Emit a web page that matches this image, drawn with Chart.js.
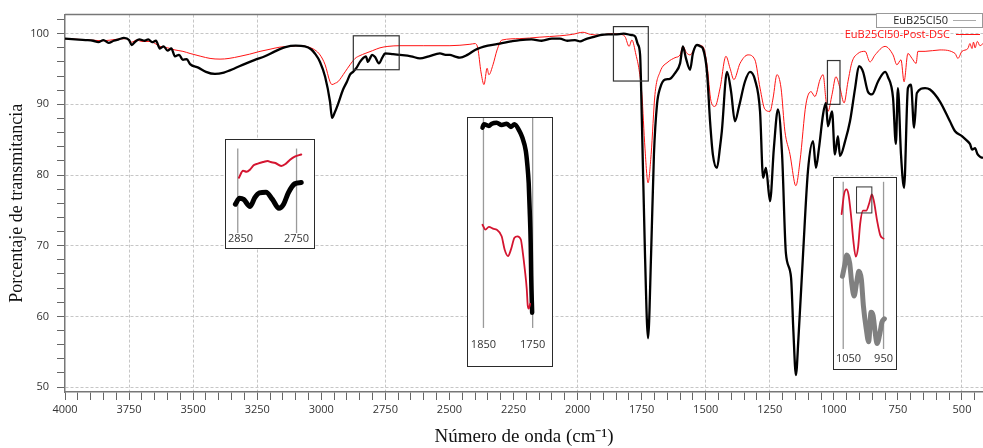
<!DOCTYPE html>
<html lang="es">
<head>
    <meta charset="UTF-8">
    <title>Espectro FTIR EuB25Cl50</title>
    <script src="https://cdn.jsdelivr.net/npm/chart.js"></script>
    <style>
        body { margin: 0; background: #ffffff; }
        .wrap { position: relative; width: 983px; height: 448px; }
        .inset {
            position: absolute;
            box-sizing: border-box;
            border: 1.5px solid #2a2a2a;
            background: #ffffff;
        }
        .inset canvas { display: block; }
    </style>
</head>
<body>
<div class="wrap">
    <canvas id="ftir" width="983" height="448"></canvas>
    <div class="inset" style="left:225px;top:139px;width:90px;height:110px"><canvas id="inset1" width="87" height="107"></canvas></div>
    <div class="inset" style="left:467px;top:117px;width:86px;height:250px"><canvas id="inset2" width="83" height="247"></canvas></div>
    <div class="inset" style="left:833px;top:177px;width:64px;height:193px"><canvas id="inset3" width="61" height="190"></canvas></div>
</div>

<script>
// --- espectro principal (numero de onda en cm-1, transmitancia en %) ---
const blackWn = [4000, 3960, 3920, 3890, 3870, 3850, 3830, 3810, 3790, 3770, 3750, 3740, 3725, 3710, 3690, 3675, 3660, 3645, 3630, 3615,
    3600, 3585, 3571, 3555, 3540, 3525, 3512, 3480, 3450, 3415, 3380, 3337, 3300, 3259, 3220, 3181, 3140, 3100, 3064, 3040,
    3025, 3005, 2985, 2966, 2958, 2948, 2935, 2915, 2900, 2888, 2876, 2862, 2849, 2835, 2826, 2818, 2810, 2802, 2790, 2775,
    2762, 2751, 2720, 2693, 2650, 2615, 2580, 2537, 2515, 2498, 2480, 2459, 2430, 2400, 2350, 2303, 2260, 2225, 2180, 2140,
    2100, 2069, 2040, 2010, 1990, 1970, 1940, 1912, 1880, 1854, 1820, 1790, 1775, 1765, 1756, 1749, 1737, 1725, 1713, 1702,
    1690, 1678, 1659, 1640, 1620, 1600, 1589, 1577, 1561, 1550, 1534, 1520, 1511, 1495, 1483, 1472, 1456, 1444, 1437, 1417,
    1401, 1386, 1370, 1347, 1327, 1308, 1288, 1276, 1265, 1249, 1234, 1218, 1202, 1187, 1167, 1158, 1148, 1138, 1120, 1101,
    1081, 1070, 1058, 1042, 1031, 1023, 1007, 996, 984, 976, 956, 937, 917, 902, 886, 867, 851, 828, 800, 789,
    769, 758, 750, 738, 726, 711, 699, 687, 676, 644, 625, 586, 547, 527, 500, 485, 469, 460, 449, 440,
    430, 418];
const blackT = [99.3, 99.2, 99.1, 99.0, 98.8, 99.1, 98.7, 99.0, 99.2, 99.4, 99.1, 98.4, 98.9, 99.2, 99.0, 99.2, 98.8, 99.0, 97.9, 98.2,
    97.6, 97.9, 96.8, 97.0, 96.3, 96.4, 95.7, 95.2, 94.6, 94.3, 94.5, 95.1, 95.7, 96.3, 96.8, 97.5, 98.1, 98.3, 98.2, 97.8,
    97.2, 96.0, 93.9, 90.4, 88.1, 88.8, 90.0, 92.1, 93.2, 94.2, 94.6, 95.2, 96.0, 96.6, 96.8, 96.0, 96.5, 97.0, 96.7, 95.8,
    96.6, 97.2, 97.1, 97.0, 96.8, 96.5, 96.8, 97.2, 97.0, 97.0, 96.8, 96.6, 97.0, 97.7, 98.3, 98.6, 98.9, 99.1, 99.2, 99.0,
    99.3, 99.3, 99.0, 99.1, 98.9, 99.2, 99.5, 99.8, 99.9, 99.9, 100.0, 99.8, 99.6, 98.5, 97.0, 87.6, 68.9, 56.9, 68.9, 82.9,
    90.0, 92.3, 93.5, 93.6, 94.4, 95.8, 98.2, 96.5, 94.9, 97.2, 98.4, 98.2, 97.9, 94.6, 87.6, 82.9, 81.0, 84.0, 86.2, 94.6,
    91.8, 87.6, 89.7, 93.2, 94.6, 93.5, 89.0, 79.6, 81.0, 76.3, 83.8, 89.3, 82.9, 68.9, 65.5, 58.0, 51.7, 57.0, 68.9, 80.6,
    84.8, 81.0, 83.8, 88.6, 90.2, 86.9, 89.0, 82.9, 85.5, 82.7, 84.8, 87.6, 92.3, 95.4, 94.6, 91.8, 91.4, 93.2, 94.6, 93.9,
    90.9, 84.4, 92.3, 82.9, 78.2, 92.3, 92.8, 86.7, 91.6, 92.3, 92.1, 90.4, 87.6, 86.2, 85.5, 85.0, 84.4, 83.6, 83.8, 83.0,
    82.6, 82.4];

const redWn = [4000, 3950, 3900, 3850, 3800, 3760, 3740, 3720, 3700, 3668, 3629, 3600, 3571, 3540, 3512, 3470, 3434, 3395, 3360, 3317,
    3280, 3239, 3200, 3161, 3122, 3083, 3050, 3025, 3005, 2985, 2966, 2958, 2945, 2935, 2907, 2888, 2868, 2849, 2829, 2800,
    2771, 2740, 2693, 2600, 2498, 2420, 2400, 2389, 2377, 2365, 2353, 2346, 2330, 2314, 2295, 2225, 2150, 2069, 2020, 1979,
    1950, 1912, 1870, 1834, 1815, 1799, 1788, 1772, 1760, 1749, 1737, 1725, 1713, 1698, 1678, 1647, 1620, 1600, 1589, 1575,
    1561, 1534, 1511, 1495, 1479, 1464, 1444, 1421, 1405, 1390, 1366, 1335, 1308, 1288, 1269, 1249, 1237, 1222, 1206, 1191,
    1171, 1152, 1148, 1132, 1109, 1089, 1074, 1054, 1042, 1031, 1023, 1007, 992, 976, 960, 945, 929, 906, 878, 859,
    839, 800, 769, 754, 738, 726, 711, 695, 679, 672, 644, 586, 527, 516, 500, 477, 469, 461, 455, 449,
    440, 430, 418];
const redT = [99.3, 99.2, 99.1, 99.0, 99.2, 99.3, 98.8, 99.1, 98.9, 98.9, 98.2, 98.0, 97.7, 97.5, 97.2, 96.8, 96.5, 96.4, 96.5, 96.8,
    97.1, 97.5, 97.8, 98.1, 98.2, 98.3, 98.1, 97.7, 97.0, 95.6, 93.2, 92.8, 93.0, 93.2, 94.6, 95.6, 96.5, 96.9, 97.2, 97.6,
    98.0, 98.2, 98.3, 98.3, 98.3, 98.5, 98.6, 97.9, 94.6, 92.8, 95.1, 94.2, 95.6, 97.7, 99.1, 99.3, 99.5, 99.7, 99.9, 100.2,
    99.9, 99.8, 100.0, 99.9, 99.6, 98.2, 99.1, 97.0, 94.9, 91.4, 83.8, 78.9, 82.9, 91.4, 94.6, 96.0, 96.6, 97.0, 98.2, 97.3,
    97.0, 98.4, 98.2, 95.6, 90.4, 89.7, 92.3, 96.8, 95.1, 93.5, 95.8, 97.0, 96.3, 92.3, 89.3, 89.0, 90.9, 94.2, 92.3, 86.2,
    82.9, 78.7, 78.5, 82.0, 90.0, 91.8, 91.1, 93.5, 94.2, 90.7, 89.0, 91.4, 93.9, 92.3, 90.2, 93.2, 96.0, 97.2, 97.5, 96.0,
    97.0, 98.2, 97.0, 95.6, 96.3, 93.2, 97.2, 96.5, 95.8, 97.5, 97.5, 97.7, 97.2, 96.5, 97.5, 97.9, 98.6, 97.9, 98.8, 98.0,
    98.9, 98.3, 98.6];

// lineas de rejilla verticales visibles y ventanas ampliadas [wnAlto, wnBajo, Tbajo, Talto]
const xGridLines = [3750, 3500, 3250, 2750, 2000, 1500, 1250, 500];
const zoomWindows = [[2875, 2696, 94.9, 99.7], [1860, 1724, 93.3, 101.0], [1025, 976, 90.0, 96.2]];

// --- recuadros ampliados (valores relativos 0-100 dentro del recuadro) ---
const inset1Marks = [2850, 2750];
const inset1RedWn = [2848, 2841, 2835, 2829, 2823, 2816, 2807, 2799, 2794, 2786, 2776, 2768, 2761, 2753, 2742];
const inset1RedY = [64.8, 71.2, 70.3, 72.4, 76.4, 77.9, 79.4, 80.3, 79.4, 78.5, 75.8, 77.9, 81.5, 84.5, 86.4];
const inset1BlackWn = [2854, 2847, 2840, 2829, 2821, 2813, 2802, 2791, 2780, 2772, 2764, 2753, 2742];
const inset1BlackY = [40.0, 45.5, 44.5, 37.9, 46.1, 50.6, 51.2, 44.5, 36.1, 40.0, 50.6, 59.1, 60.3];

const inset2Marks = [1850, 1750];
const inset2BlackWn = [1852, 1849, 1839, 1833, 1823, 1813, 1803, 1794, 1787, 1777, 1771, 1764, 1761, 1758, 1756, 1754, 1753, 1751];
const inset2BlackY = [96.1, 97.5, 96.8, 97.7, 98.1, 97.2, 97.7, 96.4, 97.5, 94.8, 92.1, 86.8, 81.5, 73.5, 62.8, 49.5, 36.1, 21.2];
const inset2RedWn = [1852, 1846, 1839, 1829, 1823, 1813, 1807, 1800, 1794, 1787, 1781, 1774, 1770, 1766, 1762, 1760, 1758, 1755];
const inset2RedY = [56.8, 54.8, 55.9, 55.1, 54.8, 52.1, 46.8, 44.1, 46.8, 51.5, 52.1, 50.8, 45.5, 38.8, 30.8, 24.1, 22.8, 24.8];

const inset3Marks = [1050, 950];
const inset3RedWn = [1054, 1048, 1042, 1037, 1031, 1025, 1019, 1013, 1008, 1001, 993, 985, 979, 974, 966, 958, 950];
const inset3RedY = [81.0, 91.4, 94.0, 91.4, 81.0, 67.2, 58.6, 63.8, 75.9, 82.8, 82.8, 87.1, 91.4, 87.9, 77.6, 69.8, 68.1];
const inset3GrayWn = [1052, 1047, 1041, 1034, 1029, 1023, 1017, 1011, 1005, 1000, 993, 987, 981, 976, 971, 966, 960, 954, 948];
const inset3GrayY = [48.3, 53.4, 59.5, 55.2, 44.8, 37.9, 44.8, 50.9, 46.6, 32.8, 20.7, 13.8, 29.3, 27.6, 19.0, 12.9, 17.2, 24.1, 25.9];
const inset3Window = [1017, 979, 81.6, 95.3];

const toPoints = (xs, ys) => xs.map((x, i) => ({ x: x, y: ys[i] }));
const tickFont = { family: 'Open Sans', size: 11 };

// marco superior, ventanas ampliadas y leyenda dibujada a mano
const framePlugin = {
    id: 'framePlugin',
    afterDatasetsDraw(chart) {
        const { ctx, chartArea, scales } = chart;
        ctx.save();
        ctx.strokeStyle = '#777';
        ctx.lineWidth = 1.5;
        ctx.beginPath();
        ctx.moveTo(chartArea.left, chartArea.top);
        ctx.lineTo(chartArea.right, chartArea.top);
        ctx.stroke();

        ctx.strokeStyle = '#333';
        ctx.lineWidth = 1.2;
        zoomWindows.forEach(w => {
            const x1 = scales.x.getPixelForValue(w[0]);
            const x2 = scales.x.getPixelForValue(w[1]);
            const y1 = scales.y.getPixelForValue(w[3]);
            const y2 = scales.y.getPixelForValue(w[2]);
            ctx.strokeRect(x1, y1, x2 - x1, y2 - y1);
        });
        ctx.restore();
    },
    afterDraw(chart) {
        const { ctx } = chart;
        const ds = chart.data.datasets;
        ctx.save();
        ctx.font = '11px "Open Sans"';
        ctx.textAlign = 'right';
        ctx.textBaseline = 'middle';
        // primera entrada dentro de un recuadro
        ctx.fillStyle = '#fff';
        ctx.fillRect(876, 13, 107, 14);
        ctx.strokeStyle = '#999';
        ctx.lineWidth = 1;
        ctx.strokeRect(876.5, 13.5, 106, 14);
        ctx.fillStyle = '#222';
        ctx.fillText(ds[1].label, 948, 20.5);
        ctx.strokeStyle = '#aaa';
        ctx.beginPath(); ctx.moveTo(953, 20.5); ctx.lineTo(976, 20.5); ctx.stroke();
        // segunda entrada
        ctx.fillStyle = ds[0].borderColor;
        ctx.fillText(ds[0].label, 950, 34.5);
        ctx.strokeStyle = ds[0].borderColor;
        ctx.beginPath(); ctx.moveTo(956, 34.5); ctx.lineTo(980, 34.5); ctx.stroke();
        ctx.restore();
    }
};

new Chart(document.getElementById('ftir'), {
    type: 'line',
    data: {
        datasets: [
            {
                label: 'EuB25Cl50-Post-DSC',
                data: toPoints(redWn, redT),
                borderColor: '#ff1414',
                borderWidth: 1,
                pointRadius: 0,
                cubicInterpolationMode: 'monotone',
                order: 1
            },
            {
                label: 'EuB25Cl50',
                data: toPoints(blackWn, blackT),
                borderColor: '#000000',
                borderWidth: 2.3,
                pointRadius: 0,
                cubicInterpolationMode: 'monotone',
                order: 0
            }
        ]
    },
    options: {
        responsive: false,
        animation: false,
        events: [],
        layout: { padding: { top: 13, left: 0, right: 0, bottom: 0 } },
        scales: {
            x: {
                type: 'linear',
                reverse: true,
                min: 418,
                max: 4000,
                afterFit: s => { s.height = 56; },
                ticks: {
                    stepSize: 50,
                    includeBounds: false,
                    autoSkip: false,
                    maxRotation: 0,
                    padding: 3,
                    color: '#333',
                    font: tickFont,
                    callback: v => (v % 250 === 0 ? v : '')
                },
                grid: {
                    color: c => (c.tick && xGridLines.includes(c.tick.value) ? '#c6c6c6' : 'rgba(0,0,0,0)'),
                    tickColor: '#666',
                    tickLength: 8
                },
                border: { color: '#777', width: 1.5, dash: [3, 2] },
                title: {
                    display: true,
                    text: 'Número de onda (cm⁻¹)',
                    color: '#111',
                    font: { family: 'Liberation Serif', size: 19 },
                    padding: 0
                }
            },
            y: {
                min: 49.3,
                max: 102.7,
                afterFit: s => { s.width = 65; },
                ticks: {
                    stepSize: 2,
                    includeBounds: false,
                    autoSkip: false,
                    padding: 8,
                    color: '#333',
                    font: tickFont,
                    callback: v => (v % 10 === 0 ? v : '')
                },
                grid: {
                    color: c => (c.tick && c.tick.value % 10 === 0 ? '#c6c6c6' : 'rgba(0,0,0,0)'),
                    tickColor: '#666',
                    tickLength: 8
                },
                border: { color: '#777', width: 1.5, dash: [3, 2] },
                title: {
                    display: true,
                    text: 'Porcentaje de transmitancia',
                    color: '#111',
                    font: { family: 'Liberation Serif', size: 18 },
                    padding: { top: 6, bottom: 0 }
                }
            }
        },
        plugins: {
            legend: { display: false },
            tooltip: { enabled: false }
        }
    },
    plugins: [framePlugin]
});

// lineas guia y etiquetas de los recuadros
const insetMarksPlugin = {
    id: 'insetMarks',
    beforeDatasetsDraw(chart, args, opts) {
        const { ctx, scales } = chart;
        ctx.save();
        ctx.strokeStyle = '#9a9a9a';
        ctx.lineWidth = 1.3;
        opts.marks.forEach(m => {
            const x = scales.x.getPixelForValue(m);
            ctx.beginPath();
            ctx.moveTo(x, scales.y.getPixelForValue(opts.lineTop));
            ctx.lineTo(x, scales.y.getPixelForValue(opts.lineBottom));
            ctx.stroke();
        });
        ctx.restore();
    },
    afterDatasetsDraw(chart, args, opts) {
        const { ctx, scales, chartArea } = chart;
        ctx.save();
        ctx.fillStyle = '#333';
        ctx.font = '11px "Open Sans"';
        ctx.textAlign = 'center';
        ctx.textBaseline = 'middle';
        opts.marks.forEach(m => {
            // la etiqueta se mantiene dentro del recuadro
            const half = ctx.measureText(String(m)).width / 2;
            let x = scales.x.getPixelForValue(m);
            x = Math.max(chartArea.left + half + 2, Math.min(chartArea.right - half - 2, x));
            ctx.fillText(String(m), x, scales.y.getPixelForValue(opts.labelY));
        });
        if (opts.window) {
            const w = opts.window;
            const x1 = scales.x.getPixelForValue(w[0]);
            const x2 = scales.x.getPixelForValue(w[1]);
            const y1 = scales.y.getPixelForValue(w[3]);
            const y2 = scales.y.getPixelForValue(w[2]);
            ctx.strokeStyle = '#333';
            ctx.lineWidth = 1;
            ctx.strokeRect(x1, y1, x2 - x1, y2 - y1);
        }
        ctx.restore();
    }
};

function makeInset(id, xMin, xMax, datasets, marks) {
    return new Chart(document.getElementById(id), {
        type: 'line',
        data: { datasets: datasets },
        options: {
            responsive: false,
            animation: false,
            events: [],
            layout: { padding: 0 },
            elements: { line: { cubicInterpolationMode: 'monotone', borderCapStyle: 'round', borderJoinStyle: 'round' } },
            scales: {
                x: { type: 'linear', reverse: true, min: xMin, max: xMax, display: false },
                y: { min: 0, max: 100, display: false }
            },
            plugins: {
                legend: { display: false },
                tooltip: { enabled: false },
                insetMarks: marks
            }
        },
        plugins: [insetMarksPlugin]
    });
}

makeInset('inset1', 2722, 2870, [
    { data: toPoints(inset1RedWn, inset1RedY), borderColor: '#d41530', borderWidth: 2, pointRadius: 0 },
    { data: toPoints(inset1BlackWn, inset1BlackY), borderColor: '#000', borderWidth: 5, pointRadius: 0 }
], { marks: inset1Marks, lineTop: 92, lineBottom: 13, labelY: 8 });

makeInset('inset2', 1712.7, 1881.4, [
    { data: toPoints(inset2RedWn, inset2RedY), borderColor: '#d41530', borderWidth: 1.8, pointRadius: 0 },
    { data: toPoints(inset2BlackWn, inset2BlackY), borderColor: '#000', borderWidth: 4.5, pointRadius: 0 }
], { marks: inset2Marks, lineTop: 100, lineBottom: 15, labelY: 8 });

makeInset('inset3', 921.6, 1072.9, [
    { data: toPoints(inset3RedWn, inset3RedY), borderColor: '#d41530', borderWidth: 1.8, pointRadius: 0 },
    { data: toPoints(inset3GrayWn, inset3GrayY), borderColor: '#808080', borderWidth: 5, pointRadius: 0 }
], { marks: inset3Marks, lineTop: 98, lineBottom: 10, labelY: 5, window: inset3Window });
</script>
</body>
</html>
